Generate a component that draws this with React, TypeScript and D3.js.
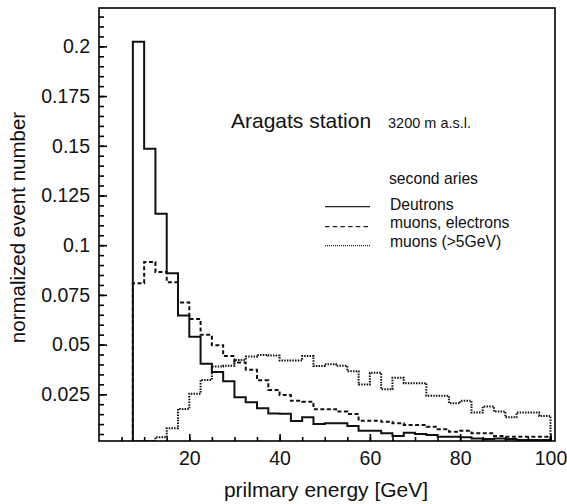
import { useEffect, useRef } from 'react';
import * as d3 from 'd3';

// bin lower edges start at 7.5 GeV, 2.5 GeV wide, up to 100 GeV
const binStart = 7.5;
const binWidth = 2.5;

const deutrons = [
  0.2023, 0.1485, 0.1158, 0.0859, 0.0646, 0.054, 0.0403, 0.0362, 0.0316, 0.0235,
  0.021, 0.018, 0.0153, 0.0152, 0.0116, 0.0134, 0.0101, 0.0104, 0.0104, 0.0091,
  0.0066, 0.0066, 0.0054, 0.004, 0.0057, 0.005, 0.0045, 0.0037, 0.0037, 0.0034,
  0.0027, 0.0025, 0.0027, 0.0025, 0.002, 0.002, 0.002,
];

const muonsElectrons = [
  0.0809, 0.0915, 0.0865, 0.0814, 0.0712, 0.0629, 0.0549, 0.0497, 0.0442, 0.041,
  0.0373, 0.032, 0.0272, 0.0247, 0.0217, 0.0213, 0.0175, 0.0175, 0.0163, 0.0151,
  0.0117, 0.0117, 0.0112, 0.0104, 0.0096, 0.0096, 0.0087, 0.0074, 0.0062, 0.0067,
  0.0054, 0.0054, 0.004, 0.0037, 0.0037, 0.0037, 0.0037,
];

const muons5GeV = [
  0, 0, 0.0034, 0.0079, 0.0176, 0.0253, 0.0322, 0.039, 0.0393, 0.0423,
  0.044, 0.0448, 0.0445, 0.042, 0.042, 0.0442, 0.0392, 0.0401, 0.0393, 0.0366,
  0.0299, 0.0358, 0.0275, 0.0333, 0.0306, 0.0306, 0.0243, 0.0243, 0.0205, 0.0217,
  0.0158, 0.0188, 0.0163, 0.0134, 0.0158, 0.0158, 0.0141,
];

const yTicks = [0.025, 0.05, 0.075, 0.1, 0.125, 0.15, 0.175, 0.2];
const xTicks = [20, 40, 60, 80, 100];

const series = [
  { name: 'Deutrons', values: deutrons, dash: null, legendDash: null },
  { name: 'muons, electrons', values: muonsElectrons, dash: '4,2.5', legendDash: '4.5,3.2' },
  { name: 'muons (>5GeV)', values: muons5GeV, dash: '1.5,1.2', legendDash: '1,1' },
];

const W = 567;
const H = 504;
const margin = { top: 8, right: 12, bottom: 63, left: 99 };
const font = '"Liberation Sans", Arial, sans-serif';

export default function App() {
  const svgRef = useRef<SVGSVGElement>(null);

  useEffect(() => {
    if (!svgRef.current) return;
    const svg = d3.select(svgRef.current);
    svg.selectAll('*').remove();

    const width = W - margin.left - margin.right;
    const height = H - margin.top - margin.bottom;

    const x = d3.scaleLinear().domain([0, 101]).range([0, width]);
    const y = d3.scaleLinear().domain([0.0015, 0.2193]).range([height, 0]);

    const g = svg.append('g').attr('transform', `translate(${margin.left},${margin.top})`);

    g.append('clipPath').attr('id', 'plot-clip')
      .append('rect').attr('width', width).attr('height', height);

    // histograms as step paths
    const line = d3.line<[number, number]>()
      .x(d => x(d[0]))
      .y(d => y(Math.max(d[1], 0.0015)));

    series.forEach(s => {
      const pts: [number, number][] = [[binStart, 0]];
      s.values.forEach((v, i) => {
        const lo = binStart + i * binWidth;
        pts.push([lo, v], [lo + binWidth, v]);
      });
      pts.push([binStart + s.values.length * binWidth, 0]);
      g.append('path')
        .attr('clip-path', 'url(#plot-clip)')
        .attr('d', line(pts))
        .attr('fill', 'none')
        .attr('stroke', '#111')
        .attr('stroke-width', 2)
        .attr('stroke-dasharray', s.dash);
    });

    // minor ticks
    g.append('g')
      .call(d3.axisLeft(y).tickValues(d3.range(0.005, 0.2176, 0.005)).tickSize(-5).tickFormat(() => ''))
      .call(a => a.select('.domain').remove());
    g.append('g')
      .attr('transform', `translate(0,${height})`)
      .call(d3.axisBottom(x).tickValues(d3.range(5, 101, 5)).tickSize(-4).tickFormat(() => ''))
      .call(a => a.select('.domain').remove());

    // major ticks with labels
    const ya = g.append('g')
      .call(d3.axisLeft(y).tickValues(yTicks).tickSize(-8).tickPadding(9).tickFormat(d => String(d)))
      .call(a => a.select('.domain').remove());
    const xa = g.append('g')
      .attr('transform', `translate(0,${height})`)
      .call(d3.axisBottom(x).tickValues(xTicks).tickSize(-7).tickPadding(10).tickFormat(d => String(d)))
      .call(a => a.select('.domain').remove());

    [ya, xa].forEach(a => {
      a.selectAll('text').attr('font-family', font).attr('font-size', 19.5).attr('fill', '#111');
    });
    g.selectAll('g line').attr('stroke', '#000').attr('stroke-width', 1.6);

    // frame
    g.append('rect')
      .attr('width', width).attr('height', height)
      .attr('fill', 'none').attr('stroke', '#000').attr('stroke-width', 1.6);

    // axis titles
    svg.append('text')
      .attr('x', margin.left + width / 2 - 1).attr('y', 497)
      .attr('text-anchor', 'middle')
      .attr('font-family', font).attr('font-size', 21).attr('fill', '#111')
      .text('prilmary energy [GeV]');
    svg.append('text')
      .attr('transform', `translate(25,${margin.top + height / 2 + 3}) rotate(-90)`)
      .attr('text-anchor', 'middle')
      .attr('font-family', font).attr('font-size', 20.5).attr('fill', '#111')
      .text('normalized event number');

    // annotations
    svg.append('text')
      .attr('x', 231).attr('y', 128)
      .attr('font-family', font).attr('font-size', 21).attr('fill', '#111')
      .text('Aragats station');
    svg.append('text')
      .attr('x', 388).attr('y', 127.5)
      .attr('font-family', font).attr('font-size', 14.5).attr('fill', '#111')
      .text('3200 m a.s.l.');
    svg.append('text')
      .attr('x', 389).attr('y', 184)
      .attr('font-family', font).attr('font-size', 15.7).attr('fill', '#111')
      .text('second aries');

    const legendY = [[206.7, 210], [226.7, 228.3], [245.7, 246.5]];
    series.forEach((s, i) => {
      svg.append('line')
        .attr('x1', 325).attr('x2', 370)
        .attr('y1', legendY[i][0]).attr('y2', legendY[i][0])
        .attr('stroke', '#222')
        .attr('stroke-width', 1.3)
        .attr('stroke-dasharray', s.legendDash);
      svg.append('text')
        .attr('x', 390).attr('y', legendY[i][1])
        .attr('font-family', font).attr('font-size', 15.7).attr('fill', '#111')
        .text(s.name);
    });
  }, []);

  return (
    <svg
      ref={svgRef}
      width={W}
      height={H}
      style={{ position: 'absolute', left: 0, top: 0, background: '#fff' }}
    />
  );
}
